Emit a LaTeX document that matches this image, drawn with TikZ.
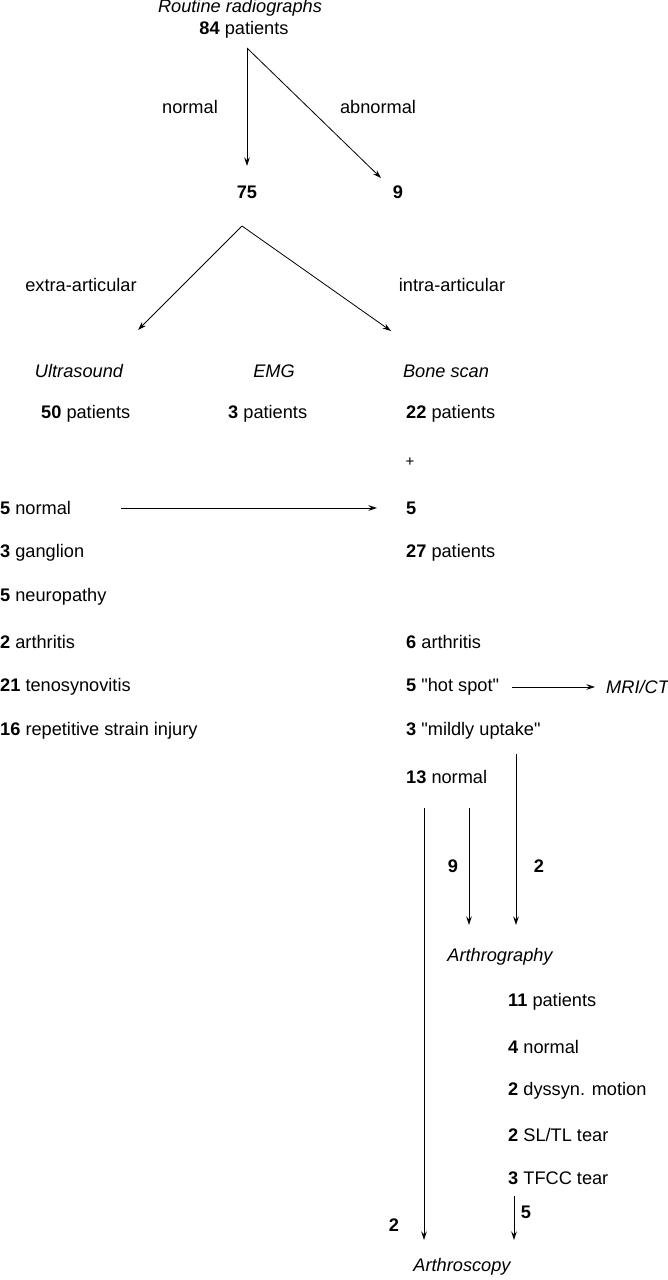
\documentclass[tikz,border=0pt]{standalone}
\usepackage{fontspec}
\setmainfont{Liberation Sans}[Ligatures=TeXOff]
\usetikzlibrary{arrows.meta}
\begin{document}
\begin{tikzpicture}[x=1pt,y=-1pt,
  every node/.style={inner sep=0pt,font=\fontsize{18.2}{21}\selectfont},
  lbl/.style={anchor=center},
  lft/.style={anchor=west},
  it/.style={font=\fontsize{18.2}{21}\selectfont\itshape},
  arr/.style={draw,line width=0.8pt,-{Stealth[length=8.5pt,width=5.5pt]}}]
\useasboundingbox (0,0) rectangle (668,1280);
% top
\node[lbl,it] (rr) at (240,8) {Routine radiographs};
\node[lbl] (p84) at (244,30) {\textbf{84} patients};
\coordinate (a1) at (247,48);
\node[lbl] (normal) at (190,107) {normal};
\node[lbl] (abnormal) at (378,107) {abnormal};
\node[lbl] (n75) at (247,192) {\textbf{75}};
\node[lbl] (n9) at (398,192) {\textbf{9}};
\coordinate (t75) at (247,166);
\coordinate (t9) at (381,178);
\draw[arr] (a1) -- (t75);
\draw[arr] (a1) -- (t9);
% second split
\coordinate (a2) at (242,226);
\node[lbl] (extra) at (81,285) {extra-articular};
\node[lbl] (intra) at (452,285) {intra-articular};
\coordinate (tl) at (138,330);
\coordinate (tr) at (391,331);
\draw[arr] (a2) -- (tl);
\draw[arr] (a2) -- (tr);
\node[lbl,it] (us) at (79,371) {Ultrasound};
\node[lbl,it] (emg) at (274,371) {EMG};
\node[lbl,it] (bs) at (446,371) {Bone scan};
\node[lft] (p50) at (41,414) {\textbf{50} patients};
\node[lft] (p3) at (228,414) {\textbf{3} patients};
\node[lft] (p22) at (406,414) {\textbf{22} patients};
\node[lbl] (plus) at (410,462) {\fontsize{15}{16}\selectfont +};
% left list
\node[lft] (l1) at (0,508) {\textbf{5} normal};
\node[lft] (l2) at (0,553) {\textbf{3} ganglion};
\node[lft] (l3) at (0,597) {\textbf{5} neuropathy};
\node[lft] (l4) at (0,642) {\textbf{2} arthritis};
\node[lft] (l5) at (0,687) {\textbf{21} tenosynovitis};
\node[lft] (l6) at (0,731) {\textbf{16} repetitive strain injury};
% right list
\node[lft] (r5) at (406,508) {\textbf{5}};
\node[lft] (r27) at (406,553) {\textbf{27} patients};
\node[lft] (r6) at (406,642) {\textbf{6} arthritis};
\node[lft] (rhot) at (406,687) {\textbf{5} "hot spot"};
\node[lft,it] (mri) at (606,687) {MRI/CT};
\node[lft] (rmild) at (406,731) {\textbf{3} "mildly uptake"};
\node[lft] (r13) at (406,777) {\textbf{13} normal};
\coordinate (s1) at (121,508);
\coordinate (e1) at (377,508);
\draw[arr] (s1) -- (e1);
\coordinate (s2) at (512,687);
\coordinate (e2) at (595,687);
\draw[arr] (s2) -- (e2);
% verticals
\coordinate (v1s) at (516,754);
\coordinate (v1e) at (516,925);
\coordinate (v2s) at (469,808);
\coordinate (v2e) at (469,925);
\coordinate (v3s) at (424,808);
\coordinate (v3e) at (424,1240);
\draw[arr] (v1s) -- (v1e);
\draw[arr] (v2s) -- (v2e);
\draw[arr] (v3s) -- (v3e);
\node[lbl] (k9) at (453,866) {\textbf{9}};
\node[lbl] (k2) at (539,866) {\textbf{2}};
\node[lbl,it] (arthrog) at (500,957) {Arthrography};
\node[lft] (q11) at (508,1002) {\textbf{11} patients};
\node[lft] (q4) at (508,1047) {\textbf{4} normal};
\node[lft] (q2a) at (508,1091) {\textbf{2} dyssyn. motion};
\node[lft] (q2b) at (508,1135) {\textbf{2} SL/TL tear};
\node[lft] (q3) at (508,1178) {\textbf{3} TFCC tear};
\coordinate (v4s) at (514,1196);
\coordinate (v4e) at (514,1240);
\draw[arr] (v4s) -- (v4e);
\node[lbl] (k5) at (526,1212) {\textbf{5}};
\node[lbl] (k2b) at (394,1225) {\textbf{2}};
\node[lbl,it] (arthros) at (462,1267) {Arthroscopy};
\end{tikzpicture}
\end{document}
